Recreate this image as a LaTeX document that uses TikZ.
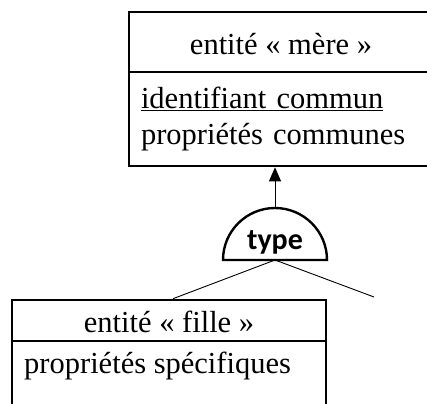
\documentclass[tikz,border=0pt]{standalone}
\usepackage{fontspec}
\setmainfont{Liberation Serif}
\newfontfamily\typefont{Carlito}
\usetikzlibrary{arrows.meta}
\begin{document}
\begin{tikzpicture}[x=1pt,y=-1pt,
  boxpart/.style={draw, line width=2.6pt, inner sep=0pt, font=\fontsize{30.5}{36}\selectfont},
  txt/.style={inner sep=0pt, font=\fontsize{30.5}{36}\selectfont},
  link/.style={line width=0.9pt},
  inherit/.style={line width=1pt, -{Triangle[width=12pt,length=14pt]}}]
\useasboundingbox (0,0) rectangle (427,403);
\clip (0,0) rectangle (427,403);
% mother entity
\node[boxpart, minimum width=304pt, minimum height=60pt, text height=25pt, text depth=0pt] (mereHead) at (281,42) {entité « mère »};
\node[boxpart, minimum width=304pt, minimum height=94pt, text width=280pt, align=left] (mereBody) at (281,119)
  {\underline{identifiant commun}\\propriétés communes};
% child entity
\node[boxpart, minimum width=314pt, minimum height=41pt, text height=23pt, text depth=0pt] (filleHead) at (169,320.5) {entité « fille »};
\node[boxpart, minimum width=314pt, minimum height=90pt] (filleBody) at (169,386) {};
\node[txt, anchor=west] (filleProp) at (24,366) {propriétés spécifiques};
% type semicircle
\coordinate (typeBase) at (275,260);
\coordinate (typeTop) at (275,208);
\draw[line width=2.4pt] (223,260) arc[start angle=180, end angle=360, radius=52] -- cycle;
\node[inner sep=0pt, font=\typefont\bfseries\fontsize{30}{34}\selectfont] (typeLabel) at (275,242) {type};
% connectors
\draw[inherit] (typeTop) -- (typeTop |- mereBody.south);
\coordinate (freeEnd) at (374,297);
\draw[link] (typeBase) -- ([xshift=4pt]filleHead.north);
\draw[link] (typeBase) -- (freeEnd);
\end{tikzpicture}
\end{document}
